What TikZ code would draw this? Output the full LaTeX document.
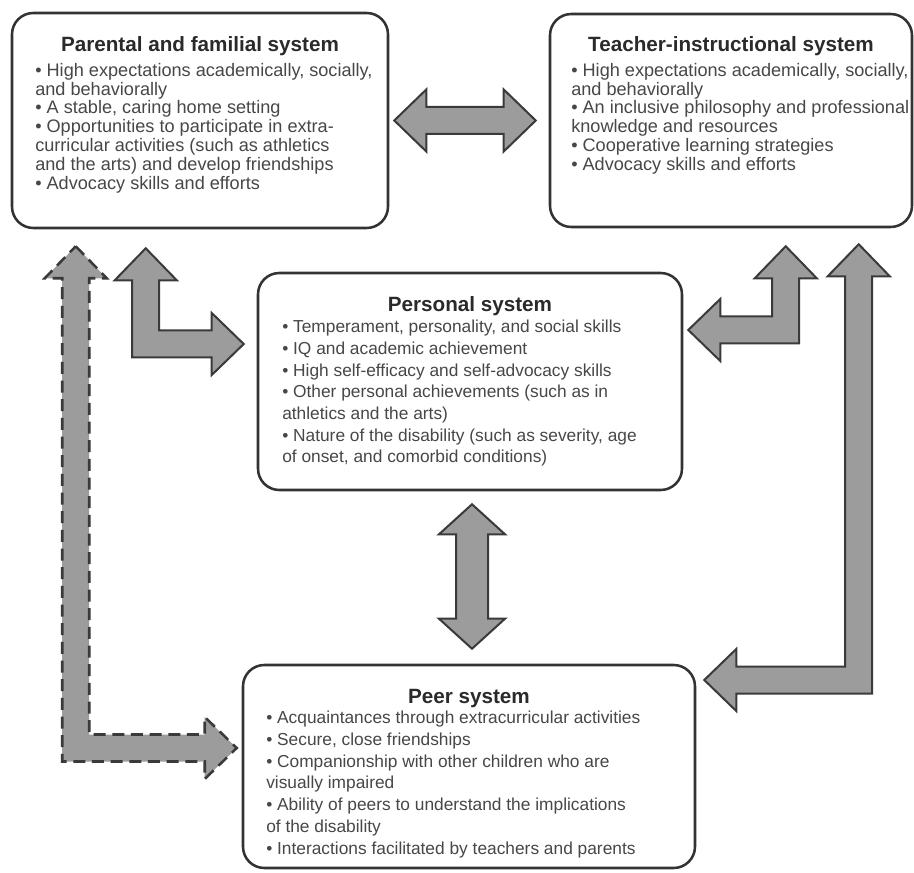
\documentclass[tikz,border=0pt]{standalone}
\usepackage{fontspec}
\setmainfont{Liberation Sans}
\usetikzlibrary{calc,fit}

\definecolor{boxline}{HTML}{333333}
\definecolor{titletext}{HTML}{2A2A2A}
\definecolor{bodytext}{HTML}{474747}
\definecolor{arrowfill}{HTML}{9C9C9C}
\definecolor{arrowline}{HTML}{3A3A3A}

% block-arrow dimensions (picture units)
\newcommand\arrSW{13.5}  % half shaft width
\newcommand\arrHW{31}    % half head width
\newcommand\arrHL{32}    % head length

% first-line strut so that the body's top sits a fixed distance above its first baseline
\newcommand\bodystrut{\rule{0pt}{13pt}}

% horizontal double-headed block arrow: #1 left tip, #2 right tip
\newcommand\hdoublearrow[3][]{%
  \draw[blockarrow,#1] (#2) -- ($(#2)+(\arrHL,-\arrHW)$) -- ($(#2)+(\arrHL,-\arrSW)$)
    -- ($(#3)+(-\arrHL,-\arrSW)$) -- ($(#3)+(-\arrHL,-\arrHW)$) -- (#3)
    -- ($(#3)+(-\arrHL,\arrHW)$) -- ($(#3)+(-\arrHL,\arrSW)$)
    -- ($(#2)+(\arrHL,\arrSW)$) -- ($(#2)+(\arrHL,\arrHW)$) -- cycle;}

% vertical double-headed block arrow: #1 top tip, #2 bottom tip
\newcommand\vdoublearrow[3][]{%
  \draw[blockarrow,#1] (#2) -- ($(#2)+(\arrHW+2,\arrHL-2)$) -- ($(#2)+(\arrSW+2.5,\arrHL-2)$)
    -- ($(#3)+(\arrSW+2.5,-\arrHL+2)$) -- ($(#3)+(\arrHW+2,-\arrHL+2)$) -- (#3)
    -- ($(#3)+(-\arrHW-2,-\arrHL+2)$) -- ($(#3)+(-\arrSW-2.5,-\arrHL+2)$)
    -- ($(#2)+(-\arrSW-2.5,\arrHL-2)$) -- ($(#2)+(-\arrHW-2,\arrHL-2)$) -- cycle;}

% L-shaped double-headed block arrow: #2 upward tip, #3 sideways tip,
% #4 = 1 when the side tip points right, -1 when it points left
\newcommand\larrow[4][]{%
  \draw[blockarrow,#1] (#2) -- ($(#2)+(\arrHW,\arrHL)$) -- ($(#2)+(\arrSW,\arrHL)$)
    -- ($(#2 |- #3)+(\arrSW,{-(#4)*\arrSW})$)
    -- ($(#3)+({-(#4)*\arrHL},{-(#4)*\arrSW})$) -- ($(#3)+({-(#4)*\arrHL},{-(#4)*\arrHW})$)
    -- (#3)
    -- ($(#3)+({-(#4)*\arrHL},{(#4)*\arrHW})$) -- ($(#3)+({-(#4)*\arrHL},{(#4)*\arrSW})$)
    -- ($(#2 |- #3)+(-\arrSW,{(#4)*\arrSW})$)
    -- ($(#2)+(-\arrSW,\arrHL)$) -- ($(#2)+(-\arrHW,\arrHL)$) -- cycle;}

\begin{document}
\begin{tikzpicture}[x=0.75pt,y=-0.75pt,
  sysbox/.style={draw=boxline, line width=1.9pt, rounded corners=16pt,
    inner sep=0pt, fill=white},
  systitle/.style={anchor=base, inner sep=0pt, text=titletext,
    font=\bfseries\fontsize{15.5}{18}\selectfont},
  upperbody/.style={anchor=north west, inner sep=0pt, align=left, text=bodytext,
    font=\fontsize{13.6}{14.1}\selectfont},
  lowerbody/.style={anchor=north west, inner sep=0pt, align=left, text=bodytext,
    font=\fontsize{13}{16.3}\selectfont},
  blockarrow/.style={draw=arrowline, fill=arrowfill, line width=1.5pt, line join=miter},
  dashedarrow/.style={dash pattern=on 9pt off 5pt, line width=1.9pt}]

\useasboundingbox[fill=white] (0,0) rectangle (914,873);

% the four systems
\node[sysbox, fit={(12,13) (388,228)}] (par) {};
\node[sysbox, fit={(550,14) (912,227)}] (tea) {};
\node[sysbox, fit={(258,273) (682,490)}] (per) {};
\node[sysbox, fit={(243,665) (695,868)}] (peer) {};

% titles
\node[systitle] (partitle) at (200,52) {Parental and familial system};
\node[systitle] (teatitle) at (731,52) {Teacher-instructional system};
\node[systitle] (pertitle) at (470,312) {Personal system};
\node[systitle] (peertitle) at (469,703) {Peer system};

% item lists
\node[upperbody] (parlist) at (35,58.7) {\bodystrut• High expectations academically, socially,\\
and behaviorally\\
• A stable, caring home setting\\
• Opportunities to participate in extra-\\
curricular activities (such as athletics\\
and the arts) and develop friendships\\
• Advocacy skills and efforts};

\node[upperbody] (tealist) at (571,58.7) {\bodystrut• High expectations academically, socially,\\
and behaviorally\\
• An inclusive philosophy and professional\\
knowledge and resources\\
• Cooperative learning strategies\\
• Advocacy skills and efforts};

\node[lowerbody] (perlist) at (282,315) {\bodystrut• Temperament, personality, and social skills\\
• IQ and academic achievement\\
• High self-efficacy and self-advocacy skills\\
• Other personal achievements (such as in\\
athletics and the arts)\\
• Nature of the disability (such as severity, age\\
of onset, and comorbid conditions)};

\node[lowerbody] (peerlist) at (266,706) {\bodystrut• Acquaintances through extracurricular activities\\
• Secure, close friendships\\
• Companionship with other children who are\\
visually impaired\\
• Ability of peers to understand the implications\\
of the disability\\
• Interactions facilitated by teachers and parents};

% arrow end points
\coordinate (parEast)  at ($(par.east)+(5,0)$);
\coordinate (teaWest)  at ($(tea.west)+(-13,0)$);
\coordinate (perSouth) at ($(per.south)+(2,13)$);
\coordinate (peerNorth) at ($(peer.north)+(3,-15)$);
\coordinate (parDown)  at ($(par.south west)+(135,19)$);
\coordinate (perWest)  at ($(per.west)+(-13,-37.5)$);
\coordinate (parDash)  at ($(par.south west)+(65,17)$);
\coordinate (peerWest) at ($(peer.west)+(-5,-18.5)$);
\coordinate (teaDown)  at ($(tea.south west)+(237,18)$);
\coordinate (perEast)  at ($(per.east)+(5,-51.5)$);
\coordinate (teaFar)   at ($(tea.south west)+(310,16)$);
\coordinate (peerEast) at ($(peer.east)+(8,-86.5)$);

% connectors between the systems
\hdoublearrow{parEast}{teaWest}
\vdoublearrow{perSouth}{peerNorth}
\larrow{parDown}{perWest}{1}
\larrow[dashedarrow]{parDash}{peerWest}{1}
\larrow{teaDown}{perEast}{-1}
\larrow{teaFar}{peerEast}{-1}

\end{tikzpicture}
\end{document}
